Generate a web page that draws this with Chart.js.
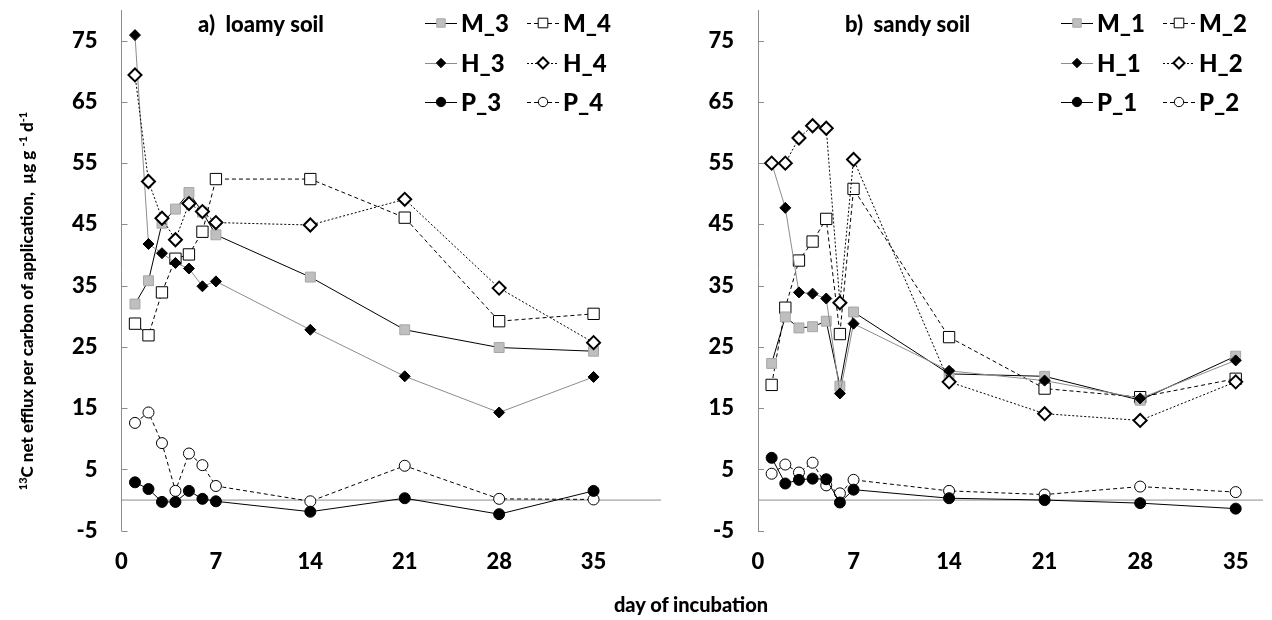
<!DOCTYPE html>
<html>
<head>
<meta charset="utf-8">
<script src="https://cdn.jsdelivr.net/npm/chart.js@4.4.1/dist/chart.umd.min.js"></script>
<style>
  html, body { margin: 0; padding: 0; background: #fff; }
  #wrap { position: relative; width: 1272px; height: 620px; overflow: hidden; font-family: Lato, sans-serif; color: #000; }
  canvas { position: absolute; top: 0; }
  #loamy { left: 0; }
  #sandy { left: 636px; }
  .xtitle { position: absolute; left: 591px; top: 592px; width: 200px; height: 24px; line-height: 24px;
            text-align: center; font-weight: 900; font-size: 20px; }
  .ytitle { position: absolute; left: -233px; top: 289px; width: 520px; height: 24px; line-height: 24px;
            text-align: center; font-weight: 900; font-size: 17px; transform: rotate(-90deg); white-space: nowrap; }
  .ytitle sup { font-size: 11px; vertical-align: 6px; line-height: 0; }
</style>
</head>
<body>
<div id="wrap">
  <canvas id="loamy" width="670" height="620"></canvas>
  <canvas id="sandy" width="636" height="620"></canvas>
  <div class="ytitle"><sup>13</sup>C net efflux per carbon of application,&nbsp; µg g <sup>-1</sup> d<sup>-1</sup></div>
  <div class="xtitle">day of incubation</div>
</div>
<script>
// sampling days
const days = [1, 2, 3, 4, 5, 6, 7, 14, 21, 28, 35];
const dayTicks = [0, 7, 14, 21, 28, 35];
const valueTicks = [-5, 5, 15, 25, 35, 45, 55, 65, 75];

// a) loamy soil
const m3 = [32.0, 35.8, 45.2, 47.5, 50.2, 47.0, 43.3, 36.4, 27.8, 24.9, 24.3];
const m4 = [28.8, 26.9, 33.9, 39.4, 40.1, 43.8, 52.4, 52.4, 46.1, 29.2, 30.4];
const h3 = [75.9, 41.8, 40.3, 38.7, 37.8, 34.9, 35.7, 27.8, 20.2, 14.3, 20.1];
const h4 = [69.4, 52.0, 46.0, 42.5, 48.4, 47.1, 45.3, 44.9, 49.1, 34.6, 25.7];
const p3 = [2.9, 1.8, -0.3, -0.3, 1.5, 0.2, -0.2, -1.9, 0.3, -2.3, 1.5];
const p4 = [12.6, 14.3, 9.3, 1.5, 7.6, 5.7, 2.3, -0.2, 5.6, 0.2, 0.1];

// b) sandy soil
const m1 = [22.3, 29.9, 28.1, 28.3, 29.2, 18.6, 30.7, 20.6, 20.2, 16.3, 23.5];
const m2 = [18.8, 31.4, 39.1, 42.2, 45.9, 27.1, 50.8, 26.6, 18.2, 16.8, 19.8];
const h1 = [55.0, 47.7, 33.9, 33.7, 32.9, 17.4, 28.8, 21.1, 19.5, 16.6, 22.8];
const h2 = [55.0, 55.0, 59.1, 61.1, 60.7, 32.2, 55.6, 19.3, 14.1, 13.0, 19.3];
const p1 = [6.9, 2.7, 3.3, 3.5, 3.4, -0.4, 1.7, 0.3, 0.0, -0.5, -1.4];
const p2 = [4.3, 5.8, 4.5, 6.1, 2.4, 1.1, 3.3, 1.5, 0.9, 2.2, 1.3];

// marker / line looks
const graySquare = { borderColor: "#000", borderWidth: 1, pointStyle: "rect", pointRadius: 7,
  pointBackgroundColor: "#bfbfbf", pointBorderColor: "#a6a6a6", pointBorderWidth: 1, order: 2 };
const openSquare = { borderColor: "#000", borderWidth: 1, borderDash: [4, 3], pointStyle: "rect", pointRadius: 8,
  pointBackgroundColor: "#fff", pointBorderColor: "#000", pointBorderWidth: 1, order: 2 };
const blackDiamond = { borderColor: "#8c8c8c", borderWidth: 1, pointStyle: "rectRot", pointRadius: 5.5,
  pointBackgroundColor: "#000", pointBorderColor: "#000", pointBorderWidth: 1, order: 1 };
const openDiamond = { borderColor: "#000", borderWidth: 1, borderDash: [2, 2], pointStyle: "rectRot", pointRadius: 6.5,
  pointBackgroundColor: "#fff", pointBorderColor: "#000", pointBorderWidth: 2, order: 0.5 };
const blackCircle = { borderColor: "#000", borderWidth: 1, pointStyle: "circle", pointRadius: 5.5,
  pointBackgroundColor: "#000", pointBorderColor: "#000", pointBorderWidth: 1, order: 0 };
const openCircle = { borderColor: "#000", borderWidth: 1, borderDash: [4, 3], pointStyle: "circle", pointRadius: 5.5,
  pointBackgroundColor: "#fff", pointBorderColor: "#000", pointBorderWidth: 1, order: 0 };

const series = (label, values, look) =>
  Object.assign({ label, data: days.map((d, i) => ({ x: d, y: values[i] })), tension: 0 }, look);

// horizontal line at zero, drawn under everything
const zeroLine = (xMax) => ({
  data: [{ x: 0, y: 0 }, { x: xMax, y: 0 }],
  borderColor: "#8c8c8c", borderWidth: 1, pointRadius: 0, order: 9,
});

// inner y ticks, panel title and a 2x3 legend
const panelDecor = {
  id: "panelDecor",
  afterDraw(chart, args, opts) {
    const ctx = chart.ctx;
    const y = chart.scales.y;
    ctx.save();
    ctx.strokeStyle = "#8c8c8c";
    ctx.lineWidth = 1;
    y.ticks.forEach((t) => {
      const py = Math.round(y.getPixelForValue(t.value)) + 0.5;
      ctx.beginPath();
      ctx.moveTo(y.right, py);
      ctx.lineTo(y.right + 6, py);
      ctx.stroke();
    });

    ctx.fillStyle = "#000";
    ctx.textBaseline = "middle";
    ctx.font = "900 22px Lato";
    ctx.fillText(opts.title, opts.titleX, 25);

    ctx.font = "900 24px Lato";
    chart.data.datasets.forEach((ds, i) => {
      if (!ds.label) return;
      const x0 = opts.legendX[i % 2];
      const yy = opts.legendY[Math.floor(i / 2)];
      ctx.save();
      ctx.strokeStyle = ds.borderColor;
      ctx.lineWidth = 1;
      ctx.setLineDash(ds.borderDash || []);
      ctx.beginPath();
      ctx.moveTo(x0, yy + 0.5);
      ctx.lineTo(x0 + 32, yy + 0.5);
      ctx.stroke();
      ctx.setLineDash([]);
      ctx.fillStyle = ds.pointBackgroundColor;
      ctx.strokeStyle = ds.pointBorderColor;
      ctx.lineWidth = ds.pointBorderWidth;
      Chart.helpers.drawPoint(ctx, {
        pointStyle: ds.pointStyle, radius: ds.pointRadius * 0.85, rotation: 0, borderWidth: ds.pointBorderWidth,
      }, x0 + 16, yy);
      ctx.restore();
      ctx.fillText(ds.label, x0 + 36, yy + 1);
    });
    ctx.restore();
  },
};

function makeConfig(datasets, xMax, axisWidth, padRight, decor) {
  return {
    type: "line",
    data: { datasets },
    plugins: [panelDecor],
    options: {
      responsive: false,
      animation: false,
      devicePixelRatio: 1,
      layout: { padding: { top: 10, right: padRight, bottom: 0, left: 0 } },
      plugins: { legend: { display: false }, tooltip: { enabled: false }, panelDecor: decor },
      scales: {
        x: {
          type: "linear", min: 0, max: xMax,
          border: { display: false },
          grid: { display: false, drawTicks: false },
          ticks: { color: "#000", font: { size: 22, weight: 900 }, padding: 18, maxRotation: 0 },
          afterBuildTicks: (s) => { s.ticks = dayTicks.map((v) => ({ value: v })); },
          afterFit: (s) => { s.height = 89.3; s.paddingLeft = 0; s.paddingRight = 0; },
        },
        y: {
          min: -5, max: 80,
          border: { display: true, color: "#8c8c8c", width: 1 },
          grid: { display: false, drawTicks: false },
          ticks: { color: "#000", font: { size: 22, weight: 900 }, padding: 24 },
          afterBuildTicks: (s) => { s.ticks = valueTicks.map((v) => ({ value: v })); },
          afterFit: (s) => { s.width = axisWidth; s.paddingTop = 0; s.paddingBottom = 0; },
        },
      },
    },
  };
}

function build() {
  Chart.defaults.font.family = "Lato";

  const loamy = [
    series("M_3", m3, graySquare), series("M_4", m4, openSquare),
    series("H_3", h3, blackDiamond), series("H_4", h4, openDiamond),
    series("P_3", p3, blackCircle), series("P_4", p4, openCircle),
    zeroLine(40),
  ];
  const sandy = [
    series("M_1", m1, graySquare), series("M_2", m2, openSquare),
    series("H_1", h1, blackDiamond), series("H_2", h2, openDiamond),
    series("P_1", p1, blackCircle), series("P_2", p2, openCircle),
    zeroLine(37),
  ];

  new Chart(document.getElementById("loamy").getContext("2d"),
    makeConfig(loamy, 40, 121.5, 7, { title: "a)  loamy soil", titleX: 198, legendX: [425, 527], legendY: [23, 63, 102] }));
  new Chart(document.getElementById("sandy").getContext("2d"),
    makeConfig(sandy, 37, 122, 0, { title: "b)  sandy soil", titleX: 209, legendX: [425, 527], legendY: [23, 63, 102] }));
}

Promise.all([document.fonts.load("900 22px Lato"), document.fonts.load("900 24px Lato"), document.fonts.load("900 18px Lato")])
  .then(build, build);
</script>
</body>
</html>
